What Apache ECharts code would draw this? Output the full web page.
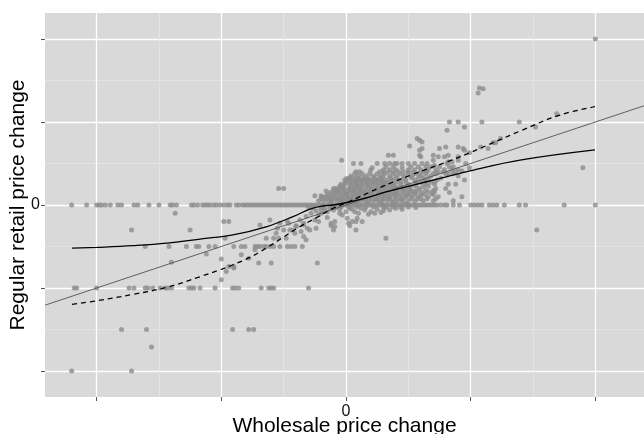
<!DOCTYPE html>
<html>
<head>
<meta charset="utf-8">
<script src="https://cdn.jsdelivr.net/npm/echarts@6/dist/echarts.min.js"></script>
<style>
  html, body { margin: 0; padding: 0; background: #ffffff; }
  #chart { width: 644px; height: 434px; }
</style>
</head>
<body>
<div id="chart"></div>
<script>
// Axis extents (wholesale change on x, retail change on y)
const X_MIN = -2.414, X_MAX = 2.39;
const Y_MIN = -2.313, Y_MAX = 2.313;
const majorTicksX = [-2, -1, 0, 1, 2];
const minorTicksX = [-1.5, -0.5, 0.5, 1.5];
const majorTicksY = [-2, -1, 0, 1, 2];
const minorTicksY = [-1.5, -0.5, 0.5, 1.5];
const labelledTicks = [0];

// Wholesale changes with no change in the regular retail price
const unchangedRetail = [
  -2.2, -2.08, -2.0, -1.98, -1.96, -1.93, -1.89, -1.83, -1.8, -1.7, -1.67, -1.58, -1.5,
  -1.41, -1.39, -1.36, -1.24, -1.22, -1.19, -1.15, -1.13, -1.11, -1.09, -1.06, -1.04,
  -1.01, -0.98, -0.95, -0.93, -0.88, -0.86, -0.83, -0.81, -0.79, -0.77, -0.75, -0.73,
  -0.71, -0.69, -0.67, -0.65, -0.63, -0.61, -0.59, -0.57, -0.55, -0.53, -0.51, -0.49,
  -0.47, -0.45, -0.43, -0.41, -0.39, -0.37, -0.35, -0.33, -0.31, -0.29, -0.27, -0.25,
  -0.23, -0.21, -0.19, -0.17, -0.15, -0.13, -0.11, -0.09, -0.07, -0.05, -0.03, -0.01,
  0.01, 0.03, 0.05, 0.07, 0.09, 0.11, 0.13, 0.15, 0.17, 0.19, 0.21, 0.23, 0.25, 0.27,
  0.29, 0.31, 0.33, 0.35, 0.37, 0.39, 0.41, 0.43, 0.45, 0.47, 0.49, 0.51, 0.53, 0.55,
  0.57, 0.59, 0.61, 0.63, 0.65, 0.67, 0.69, 0.71, 0.73, 0.76, 0.79, 0.81, 0.86, 0.91,
  1.0, 1.03, 1.06, 1.09, 1.15, 1.18, 1.21, 1.27, 1.39, 1.44, 1.75, 2.0
];

// Price decreases: [wholesale change, retail change]
const decreases = [
  [-2.18,-1],[-2.16,-1],[-2.0,-1],[-1.74,-1],[-1.70,-1],[-1.61,-1],[-1.59,-1],[-1.55,-1],
  [-1.49,-1],[-1.45,-1],[-1.43,-1],[-1.40,-1],[-1.26,-1],[-1.24,-1],[-1.22,-1],[-1.17,-1],
  [-1.05,-1],[-0.91,-1],[-0.89,-1],[-0.86,-1],[-0.68,-1],[-0.62,-1],[-0.60,-1],[-0.58,-1],[-0.30,-1],
  [-1.61,-0.5],[-1.42,-0.5],[-1.28,-0.5],[-1.20,-0.5],[-1.18,-0.5],[-1.10,-0.5],[-1.05,-0.5],
  [-0.90,-0.5],[-0.84,-0.5],[-0.81,-0.5],[-0.73,-0.5],[-0.71,-0.5],[-0.69,-0.5],[-0.66,-0.5],
  [-0.64,-0.5],[-0.61,-0.5],[-0.58,-0.5],[-0.53,-0.5],[-0.47,-0.5],[-0.44,-0.5],[-0.41,-0.5],[-0.35,-0.5],
  [-1.72,-0.30],[-1.37,-0.10],[-1.25,-0.30],[-1.12,-0.59],[-1.40,-0.69],[-1.80,-1.5],[-1.60,-1.5],
  [-1.56,-1.71],[-2.2,-2.0],[-1.72,-2.0],[-0.91,-1.5],[-0.78,-1.5],[-0.74,-1.5],
  [-0.98,-0.2],[-0.94,-0.2],[-0.97,-0.4],[-1.0,-0.65],[-1.0,-0.9],[-0.94,-0.74],[-0.96,-0.8],
  [-0.90,-0.74],[-0.90,-0.76],[-0.84,-0.6],[-0.78,-0.64],[-0.70,-0.7],[-0.60,-0.7],[-0.73,-0.54],
  [-0.58,-0.4],[-0.54,-0.4],[-0.48,-0.4],[-0.64,-0.4],[-0.56,-0.34],[-0.55,-0.28],[-0.69,-0.24],
  [-0.61,-0.18],[-0.53,-0.22],[-0.47,-0.2],[-0.50,-0.3],[-0.45,-0.3],[-0.43,-0.3],[-0.41,-0.34],
  [-0.40,-0.25],[-0.34,-0.38],[-0.32,-0.42],[-0.36,-0.32],[-0.34,-0.22],[-0.46,-0.22],[-0.40,-0.26],
  [-0.37,-0.18],[-0.34,-0.24],[-0.32,-0.14],[-0.29,-0.3],[-0.31,-0.28],[-0.25,-0.18],[-0.24,-0.28],
  [-0.22,-0.12],[-0.20,-0.10],[-0.17,-0.06],[-0.13,-0.04],[-0.12,-0.22],[-0.09,-0.26],[-0.10,-0.3],
  [-0.05,-0.1],[0.01,-0.16],[0.02,-0.22],[0.05,-0.2],[0.09,-0.16],[0.13,-0.2],[-0.09,-0.2],
  [-0.12,-0.25],[0.03,-0.25],[0.08,-0.3],[0.08,-0.2],[-0.23,-0.7],[0.32,-0.4],[0.30,-0.07],
  [0.56,-0.03],[1.53,-0.30],
  [-0.2,-0.05],[-0.15,-0.08],[-0.1,-0.06],[-0.05,-0.05],[0.0,-0.08],[0.05,-0.05],[0.1,-0.1],
  [0.15,-0.06],[0.2,-0.08],[0.25,-0.05],[0.35,-0.06],[0.4,-0.04],[0.23,-0.1],[0.45,-0.05],
  [-0.27,-0.04],[-0.24,-0.07],[-0.18,-0.03],[-0.08,-0.03],[-0.03,-0.12],[0.03,-0.04],[0.07,-0.08],
  [0.12,-0.04],[0.18,-0.11],[0.28,-0.09],[0.32,-0.03],[-0.28,-0.1],[-0.22,-0.2],[-0.15,-0.15]
];

// Price increases: [wholesale change, retail change]
const increases = [
  [-0.54,0.2],[-0.50,0.2],[-0.25,0.11],[-0.20,0.11],[-0.16,0.17],[-0.10,0.2],[-0.075,0.18],
  [0.005,0.32],[-0.035,0.54],[0.198,0.42],
  [-0.22,0.05],[-0.18,0.05],[-0.14,0.05],[-0.11,0.05],[-0.07,0.05],[-0.04,0.05],[0.0,0.05],
  [0.04,0.05],[0.07,0.05],[0.11,0.05],[0.15,0.05],[0.18,0.05],[0.22,0.05],[0.26,0.05],[0.29,0.05],
  [0.33,0.05],[0.37,0.05],[0.41,0.05],[0.45,0.05],[0.50,0.05],[0.55,0.05],[0.62,0.05],[0.70,0.05],[0.86,0.05],
  [-0.19,0.1],[-0.16,0.1],[-0.13,0.1],[-0.09,0.1],[-0.05,0.1],[-0.02,0.1],[0.02,0.1],[0.05,0.1],
  [0.09,0.1],[0.13,0.1],[0.16,0.1],[0.20,0.1],[0.24,0.1],[0.28,0.1],[0.31,0.1],[0.35,0.1],[0.39,0.1],
  [0.43,0.1],[0.48,0.1],[0.53,0.1],[0.58,0.1],[0.66,0.1],[0.74,0.1],[0.93,0.1],
  [-0.13,0.15],[-0.09,0.15],[-0.05,0.15],[-0.01,0.15],[0.03,0.15],[0.07,0.15],[0.11,0.15],
  [0.14,0.15],[0.18,0.15],[0.22,0.15],[0.26,0.15],[0.30,0.15],[0.34,0.15],[0.38,0.15],[0.42,0.15],
  [0.47,0.15],[0.52,0.15],[0.56,0.15],[0.61,0.15],[0.66,0.16],[0.69,0.14],[0.71,0.16],[0.83,0.15],
  [-0.08,0.2],[-0.05,0.2],[-0.02,0.2],[0.02,0.2],[0.06,0.2],[0.10,0.2],[0.13,0.2],[0.17,0.2],
  [0.21,0.2],[0.25,0.2],[0.29,0.2],[0.33,0.2],[0.37,0.2],[0.41,0.2],[0.46,0.2],[0.51,0.2],
  [0.59,0.2],[0.62,0.22],[0.72,0.2],[0.80,0.2],
  [-0.04,0.25],[-0.01,0.25],[0.03,0.25],[0.06,0.25],[0.09,0.25],[0.13,0.25],[0.17,0.25],[0.21,0.25],
  [0.25,0.25],[0.29,0.25],[0.33,0.25],[0.38,0.25],[0.44,0.25],[0.50,0.25],[0.56,0.25],[0.64,0.25],
  [0.71,0.25],[0.82,0.25],[0.88,0.25],
  [-0.01,0.3],[0.02,0.3],[0.05,0.3],[0.08,0.3],[0.11,0.3],[0.14,0.3],[0.17,0.3],[0.20,0.3],
  [0.23,0.3],[0.26,0.3],[0.29,0.3],[0.33,0.3],[0.37,0.3],[0.42,0.3],[0.48,0.3],[0.55,0.3],
  [0.63,0.3],[0.73,0.3],[0.71,0.28],[0.95,0.3],
  [0.04,0.35],[0.10,0.35],[0.16,0.35],[0.22,0.35],[0.28,0.35],[0.35,0.35],[0.41,0.35],[0.47,0.35],
  [0.53,0.35],[0.60,0.35],[0.68,0.35],[0.90,0.35],
  [0.08,0.4],[0.11,0.4],[0.27,0.4],[0.30,0.4],[0.34,0.4],[0.38,0.4],[0.42,0.4],[0.46,0.4],
  [0.50,0.4],[0.54,0.4],[0.59,0.38],[0.62,0.4],[0.65,0.4],[0.70,0.38],[0.74,0.4],[0.78,0.4],
  [0.82,0.38],[0.88,0.4],[0.93,0.41],
  [0.21,0.45],[0.45,0.45],[0.71,0.48],[0.75,0.46],[0.83,0.46],[0.86,0.46],[0.99,0.45],
  [0.06,0.5],[0.12,0.5],[0.25,0.5],[0.31,0.5],[0.35,0.5],[0.39,0.5],[0.41,0.5],[0.45,0.5],
  [0.50,0.5],[0.55,0.5],[0.61,0.5],[0.65,0.5],[0.70,0.54],[0.81,0.5],[0.82,0.52],[0.85,0.52],
  [0.90,0.54],[0.96,0.5],
  [0.59,0.6],[0.60,0.58],[0.74,0.58],[0.79,0.58],[0.90,0.58],[0.34,0.6],[0.38,0.6],[0.70,0.6],[0.82,0.6],
  [0.59,0.66],[0.75,0.68],[0.94,0.68],[0.95,0.66],[0.51,0.71],[0.61,0.68],[0.80,0.7],[0.90,0.7],
  [0.57,0.8],[0.59,0.78],[0.61,0.76],[0.81,0.9],[0.83,1.0],[0.90,1.0],[0.95,0.94],
  [0.99,0.63],[1.08,0.7],[1.14,0.68],[1.18,0.75],[1.20,0.75],[1.24,0.8],[1.09,1.0],[1.39,1.0],
  [1.52,0.94],[1.69,1.1],[1.07,1.41],[1.10,1.40],[1.06,1.35],[1.90,0.45],[2.0,2.0],
  [-0.12,0.03],[-0.02,0.03],[0.08,0.03],[0.18,0.02],[0.28,0.03],[0.38,0.03],[0.48,0.02],
  [-0.05,0.07],[0.04,0.08],[0.14,0.07],[0.24,0.07],[0.34,0.08],[0.44,0.07],[0.57,0.07],
  [0.0,0.13],[0.09,0.12],[0.19,0.13],[0.29,0.12],[0.39,0.13],[0.49,0.12],[0.6,0.12],
  [0.04,0.18],[0.15,0.17],[0.24,0.18],[0.35,0.17],[0.45,0.18],[0.55,0.17],
  [0.1,0.23],[0.2,0.22],[0.31,0.23],[0.4,0.22],[0.52,0.23],[0.6,0.27],
  [0.12,0.28],[0.22,0.28],[0.32,0.27],[0.44,0.28],[0.52,0.33],[0.3,0.33],[0.18,0.32]
];

// Small increases packed around the origin
const coreCluster = [
  [-0.2,0.075],[-0.16,0.075],[-0.12,0.075],[-0.08,0.075],[-0.03,0.075],[0.01,0.075],[0.06,0.075],
  [0.1,0.075],[0.16,0.075],[0.2,0.075],[0.25,0.075],[0.3,0.075],[0.35,0.075],[0.4,0.075],
  [0.46,0.075],[0.52,0.075],[0.6,0.075],[0.65,0.075],[0.72,0.075],
  [-0.15,0.125],[-0.11,0.125],[-0.07,0.125],[-0.03,0.125],[0.01,0.125],[0.06,0.125],[0.11,0.125],
  [0.15,0.125],[0.21,0.125],[0.26,0.125],[0.32,0.125],[0.36,0.125],[0.41,0.125],[0.45,0.125],
  [0.5,0.125],[0.55,0.125],[0.63,0.125],[0.7,0.125],
  [-0.1,0.175],[-0.06,0.175],[-0.02,0.175],[0.02,0.175],[0.07,0.175],[0.11,0.175],[0.2,0.175],
  [0.27,0.175],[0.31,0.175],[0.4,0.175],[0.49,0.175],[0.52,0.175],[0.58,0.175],[0.64,0.175],[0.7,0.175],
  [-0.05,0.225],[-0.02,0.225],[0.04,0.225],[0.08,0.225],[0.13,0.225],[0.17,0.225],[0.24,0.225],
  [0.28,0.225],[0.35,0.225],[0.38,0.225],[0.44,0.225],[0.49,0.225],[0.56,0.225],[0.66,0.225],
  [0.0,0.275],[0.04,0.275],[0.08,0.275],[0.16,0.275],[0.19,0.275],[0.25,0.275],[0.29,0.275],
  [0.36,0.275],[0.4,0.275],[0.48,0.275],[0.56,0.275],[0.64,0.275],[0.68,0.275],
  [0.03,0.325],[0.07,0.325],[0.1,0.325],[0.14,0.325],[0.23,0.325],[0.27,0.325],[0.36,0.325],
  [0.4,0.325],[0.46,0.325],[0.58,0.325],[0.62,0.325],[0.66,0.325],[0.76,0.325],
  [0.07,0.375],[0.13,0.375],[0.19,0.375],[0.25,0.375],[0.31,0.375],[0.38,0.375],[0.44,0.375],
  [0.5,0.375],[0.56,0.375],[0.64,0.375],[0.72,0.375],[0.8,0.375],[0.86,0.375],
  [0.3,0.425],[0.35,0.425],[0.4,0.425],[0.5,0.425],[0.55,0.425],[0.6,0.425],[0.66,0.425],
  [0.72,0.425],[0.79,0.425],[0.85,0.425],[0.9,0.425],
  [0.32,0.46],[0.38,0.46],[0.52,0.46],[0.58,0.46],[0.64,0.46],[0.68,0.46],
  [-0.3,-0.025],[-0.26,-0.025],[-0.2,-0.025],[-0.12,-0.025],[-0.04,-0.025],[0.02,-0.025],
  [0.09,-0.025],[0.16,-0.025],[0.22,-0.025],[0.3,-0.025],[0.38,-0.025],[0.44,-0.025],[0.5,-0.025]
];

// Fitted curves sampled along the wholesale range
const solidFit = [
  [-2.197,-0.52],[-1.997,-0.51],[-1.708,-0.49],[-1.435,-0.46],[-1.171,-0.41],[-0.906,-0.36],
  [-0.634,-0.26],[-0.425,-0.14],[-0.289,-0.05],[-0.184,-0.012],[-0.104,0.0],[0.008,0.03],
  [0.168,0.09],[0.329,0.16],[0.537,0.24],[0.754,0.32],[0.994,0.41],[1.395,0.54],[1.997,0.663]
];
const dashedFit = [
  [-2.197,-1.197],[-1.997,-1.153],[-1.708,-1.077],[-1.435,-0.99],[-1.171,-0.864],[-1.010,-0.78],
  [-0.906,-0.72],[-0.770,-0.63],[-0.634,-0.514],[-0.505,-0.39],[-0.369,-0.26],[-0.233,-0.15],
  [-0.104,-0.04],[0.008,0.03],[0.273,0.21],[0.537,0.37],[0.810,0.52],[0.994,0.63],[1.395,0.89],
  [1.716,1.084],[1.997,1.184]
];
// Reference line through the origin
const refSlope = 0.5;
const refLine = [[X_MIN, refSlope * X_MIN], [X_MAX, refSlope * X_MAX]];

const FONT = '"Liberation Sans", Arial, Helvetica, sans-serif';
const chart = echarts.init(document.getElementById('chart'), null, { renderer: 'canvas' });

function gridAxis(ticks, pos, min, max) {
  return {
    type: 'value', gridIndex: 0, position: pos, min: min, max: max,
    axisLine: { show: false, onZero: false },
    axisTick: { show: false, customValues: ticks },
    axisLabel: { show: false },
    splitLine: { show: true, lineStyle: { color: '#e6e6e6', width: 0.8 } }
  };
}

const option = {
  animation: false,
  backgroundColor: '#ffffff',
  grid: { left: 45, right: 0, top: 13, bottom: 37, outerBoundsMode: 'none', containLabel: false,
          show: true, backgroundColor: '#d9d9d9', borderWidth: 0 },
  xAxis: [
    gridAxis(minorTicksX, 'bottom', X_MIN, X_MAX),
    {
      type: 'value', gridIndex: 0, position: 'bottom', min: X_MIN, max: X_MAX,
      name: 'Wholesale price change', nameLocation: 'middle', nameGap: 19, nameMoveOverlap: false,
      nameTextStyle: { fontFamily: FONT, fontSize: 21, color: '#000' },
      axisLine: { show: false, onZero: false },
      axisTick: { show: true, length: 4, customValues: majorTicksX, lineStyle: { color: '#555', width: 1 } },
      axisLabel: { show: true, customValues: labelledTicks, margin: 7, fontFamily: FONT, fontSize: 16, color: '#111',
                   formatter: v => String(v) },
      splitLine: { show: true, lineStyle: { color: '#ffffff', width: 1.3 } }
    }
  ],
  yAxis: [
    gridAxis(minorTicksY, 'left', Y_MIN, Y_MAX),
    {
      type: 'value', gridIndex: 0, position: 'left', min: Y_MIN, max: Y_MAX,
      name: 'Regular retail price change', nameLocation: 'middle', nameGap: 16, nameRotate: 90,
      nameMoveOverlap: false,
      nameTextStyle: { fontFamily: FONT, fontSize: 21, color: '#000' },
      axisLine: { show: false, onZero: false },
      axisTick: { show: true, length: 4, customValues: majorTicksY, lineStyle: { color: '#555', width: 1 } },
      axisLabel: { show: true, customValues: labelledTicks, margin: 5, fontFamily: FONT, fontSize: 16, color: '#111',
                   formatter: v => String(v) },
      splitLine: { show: true, lineStyle: { color: '#ffffff', width: 1.3 } }
    }
  ],
  series: [
    {
      type: 'scatter', xAxisIndex: 1, yAxisIndex: 1, symbolSize: 5, silent: true,
      itemStyle: { color: '#8c8c8c' },
      data: unchangedRetail.map(x => [x, 0]).concat(decreases, increases, coreCluster)
    },
    {
      type: 'line', xAxisIndex: 1, yAxisIndex: 1, data: refLine, showSymbol: false, silent: true,
      lineStyle: { color: '#5f5f5f', width: 1 }
    },
    {
      type: 'line', xAxisIndex: 1, yAxisIndex: 1, data: solidFit, smooth: 0.4, showSymbol: false, silent: true,
      lineStyle: { color: '#000', width: 1.3 }
    },
    {
      type: 'line', xAxisIndex: 1, yAxisIndex: 1, data: dashedFit, smooth: 0.4, showSymbol: false, silent: true,
      lineStyle: { color: '#000', width: 1.3, type: [5, 4] }
    }
  ]
};
chart.setOption(option);
</script>
</body>
</html>
